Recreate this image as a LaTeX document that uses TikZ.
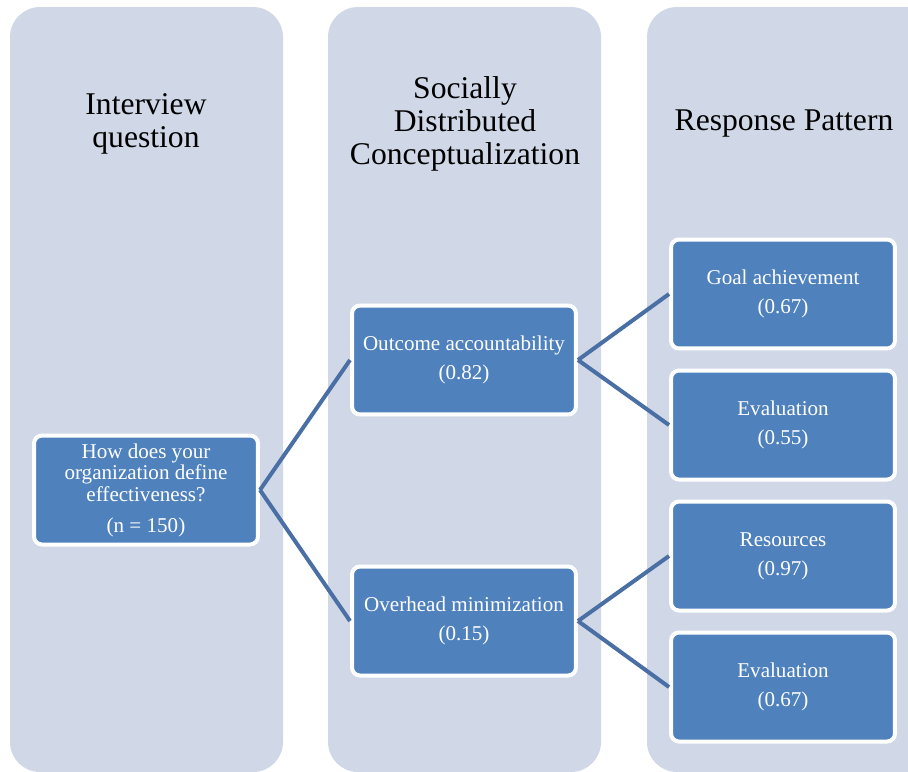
\documentclass[tikz,border=0pt]{standalone}
\usepackage{fontspec}
\setmainfont{Liberation Serif}
\usetikzlibrary{positioning}
\definecolor{colbg}{HTML}{D0D8E8}
\definecolor{boxblue}{HTML}{4F81BD}
\definecolor{linkblue}{HTML}{4A6FA5}

\begin{document}
\begin{tikzpicture}[x=0.02cm, y=-0.02cm,
    item/.style={draw=white, line width=0.08cm, fill=boxblue, rounded corners=0.16cm,
        text=white, align=center, font=\fontsize{12}{12.4}\selectfont,
        minimum width=4.48cm, minimum height=2.18cm, inner sep=0pt},
    heading/.style={align=center, font=\fontsize{18}{18.8}\selectfont},
    link/.style={linkblue, line width=0.08cm}]
    \useasboundingbox (0,0) rectangle (908,771);
    \clip (0,0) rectangle (908,771);

    % Column backgrounds
    \fill[colbg, rounded corners=0.6cm] (10,7) rectangle (283,772);
    \fill[colbg, rounded corners=0.6cm] (328,7) rectangle (601,772);
    \fill[colbg, rounded corners=0.6cm] (647,7) rectangle (960,772);

    % Column headings
    \node[heading] (qtitle) at (146,124) {Interview\\question};
    \node[heading] (ctitle) at (465,124) {Socially\\Distributed\\Conceptualization};
    \node[heading] (rtitle) at (784,124) {Response Pattern};

    % Question
    \node[item] (question) at (146,490) {How does your\\organization define\\effectiveness?\\[5pt](n = 150)};

    % Conceptualizations
    \node[item] (outcome) at (464,360) {Outcome accountability\\[4pt](0.82)};
    \node[item] (overhead) at (464,621) {Overhead minimization\\[4pt](0.15)};

    % Response patterns
    \node[item] (goal) at (783,294) {Goal achievement\\[4pt](0.67)};
    \node[item] (evalA) at (783,425) {Evaluation\\[4pt](0.55)};
    \node[item] (resources) at (783,556) {Resources\\[4pt](0.97)};
    \node[item] (evalB) at (783,687) {Evaluation\\[4pt](0.67)};

    % Links
    \draw[link] (question.east) -- (outcome.west);
    \draw[link] (question.east) -- (overhead.west);
    \draw[link] (outcome.east) -- (goal.west);
    \draw[link] (outcome.east) -- (evalA.west);
    \draw[link] (overhead.east) -- (resources.west);
    \draw[link] (overhead.east) -- (evalB.west);
\end{tikzpicture}
\end{document}
